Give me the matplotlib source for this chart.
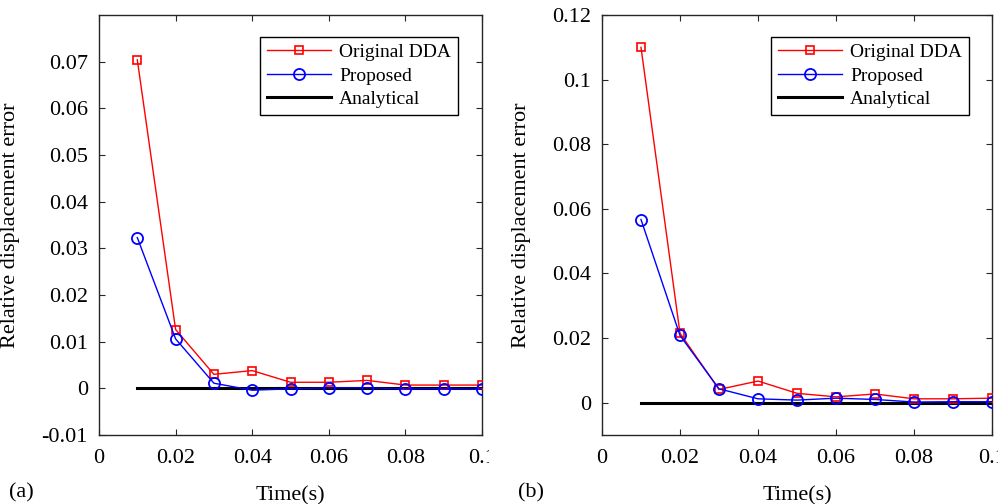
import matplotlib
matplotlib.use("Agg")
import matplotlib.pyplot as plt
from matplotlib.transforms import Bbox

plt.rcParams["font.family"] = ["Liberation Serif", "DejaVu Serif"]

# Time steps (s)
time = [0.01, 0.02, 0.03, 0.04, 0.05, 0.06, 0.07, 0.08, 0.09, 0.10]

# Case (a): relative displacement error
orig_a = [0.0704, 0.0126, 0.0030, 0.0038, 0.0013, 0.0013, 0.0017, 0.0007, 0.0007, 0.0007]
prop_a = [0.0323, 0.0106, 0.0011, -0.0004, -0.0001, 0.0001, 0.0001, -0.0001, -0.0001, -0.0002]

# Case (b): relative displacement error
orig_b = [0.1100, 0.0215, 0.0041, 0.0067, 0.0029, 0.0018, 0.0027, 0.0012, 0.0012, 0.0014]
prop_b = [0.0567, 0.0208, 0.0043, 0.0012, 0.0008, 0.0014, 0.0010, 0.0002, 0.0003, 0.0003]

analytical = [0.0] * len(time)

xticks = [0, 0.02, 0.04, 0.06, 0.08, 0.1]
xticklabels = ["0", "0.02", "0.04", "0.06", "0.08", "0.1"]
yticks_a = [-0.01, 0, 0.01, 0.02, 0.03, 0.04, 0.05, 0.06, 0.07]
yticklabels_a = ["-0.01", "0", "0.01", "0.02", "0.03", "0.04", "0.05", "0.06", "0.07"]
yticks_b = [0, 0.02, 0.04, 0.06, 0.08, 0.1, 0.12]
yticklabels_b = ["0", "0.02", "0.04", "0.06", "0.08", "0.1", "0.12"]

W, H = 998, 504
fig = plt.figure(figsize=(W / 100, H / 100), dpi=100)

axc = "#262626"


def panel(rect, orig, prop, ylim, yticks, yticklabels, leg_anchor, ylab_x, tag, tag_x):
    ax = fig.add_axes([rect[0] / W, 1 - rect[3] / H, (rect[2] - rect[0]) / W, (rect[3] - rect[1]) / H])
    ax.plot(time, orig, color="#ff0000", lw=1.0, marker="s", ms=6, mfc="none",
            mec="#ff0000", mew=1.2, label="Original DDA", zorder=3)
    ax.plot(time, prop, color="#0000ff", lw=1.0, marker="o", ms=8, mfc="none",
            mec="#0000ff", mew=1.3, label="Proposed", zorder=4)
    ax.plot(time, analytical, color="black", lw=2.2, label="Analytical", zorder=2)
    ax.set_xlim(0, 0.1)
    ax.set_ylim(*ylim)
    ax.set_xticks(xticks)
    ax.set_xticklabels(xticklabels)
    ax.set_yticks(yticks)
    ax.set_yticklabels(yticklabels)
    ax.tick_params(direction="in", length=4, width=0.8, colors=axc, labelcolor="black",
                   labelsize=16, top=True, right=True, pad=8)
    ax.tick_params(axis="x", pad=10)
    for s in ax.spines.values():
        s.set_color(axc)
        s.set_linewidth(1.0)
    ax.set_ylabel("Relative displacement error", fontsize=16)
    ax.yaxis.set_label_coords(ylab_x, 0.5)
    ax.set_xlabel("Time(s)", fontsize=16, labelpad=13)
    leg = ax.legend(loc="upper right", bbox_to_anchor=leg_anchor, borderaxespad=0,
                    fontsize=14, handlelength=3.3, handletextpad=0.4,
                    labelspacing=0.3, borderpad=0.35, fancybox=False, framealpha=1)
    leg.get_frame().set_edgecolor("black")
    leg.get_frame().set_linewidth(1.0)
    fig.text(tag_x / W, 1 - 493 / H, tag, fontsize=16, va="center", ha="left")
    return ax


ax1 = panel((99, 15, 482, 435), orig_a, prop_a, (-0.01, 0.08), yticks_a, yticklabels_a,
            (0.937, 0.948), -0.206, "(a)", 9)
ax2 = panel((602, 15, 992, 435), orig_b, prop_b, (-0.01, 0.12), yticks_b, yticklabels_b,
            (0.941, 0.948), -0.182, "(b)", 518)

# the last x label of panel (a) is cut off at the panel border
clip = Bbox.from_extents(0, 0, 489, H)
for lab in ax1.get_xticklabels():
    lab.set_clip_box(clip)
    lab.set_clip_on(True)

fig.savefig("out.png", dpi=100)
